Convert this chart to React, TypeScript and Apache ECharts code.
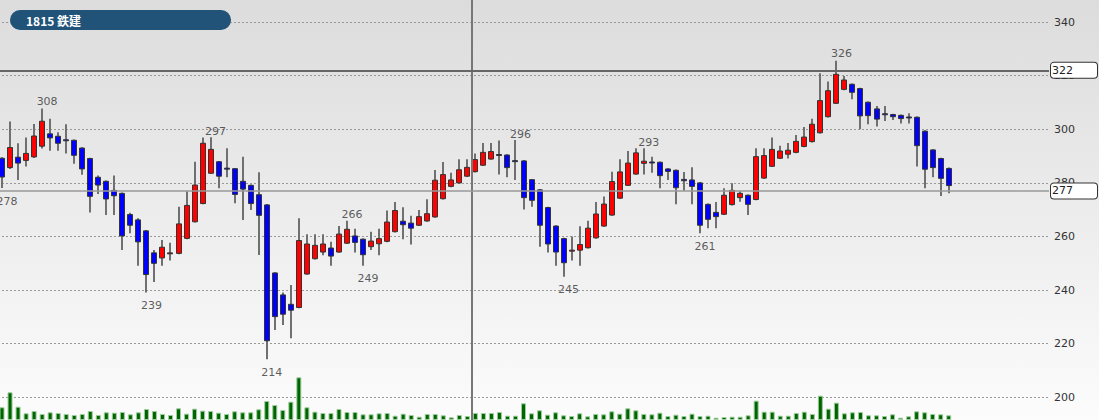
import React, { useEffect, useRef } from "react";
import * as echarts from "echarts";

const title = "1815 鉄建";

// candle values split into arrays: open, close, low, high
const opens = [
  289.2, 285.7, 289.6, 288.4, 289.7, 293.7, 298.3, 297.4, 296.1, 295.9,
  293.0, 289.1, 282.1, 280.6, 277.2, 276.1, 268.2, 266.2, 262.1, 253.9,
  252.0, 253.8, 253.7, 259.3, 265.5, 272.3, 283.6, 287.9, 285.5, 285.3,
  280.6, 279.1, 275.6, 271.8, 246.4, 238.2, 234.7, 233.5, 246.0, 251.7,
  254.2, 255.7, 254.2, 257.5, 260.2, 259.0, 256.2, 257.3, 258.2, 261.8,
  265.7, 265.0, 264.2, 265.8, 267.3, 274.1, 278.7, 280.0, 282.5, 284.2,
  286.6, 288.9, 290.6, 290.4, 288.3, 288.2, 281.2, 277.4, 270.8, 263.9,
  259.2, 254.8, 254.9, 255.8, 259.5, 263.9, 268.0, 274.3, 279.1, 283.3,
  287.3, 287.8, 287.7, 285.2, 284.7, 281.3, 281.1, 280.0, 272.0, 269.0,
  268.3, 271.9, 274.5, 275.4, 273.8, 281.8, 286.2, 289.2, 290.7, 291.4,
  293.6, 295.4, 298.7, 304.7, 309.7, 314.9, 316.8, 315.2, 310.1, 307.6,
  305.8, 305.5, 305.2, 304.6, 304.5, 299.3, 292.3, 289.1, 285.4,
];
const closes = [
  282.2, 293.2, 287.4, 291.0, 297.5, 303.0, 296.8, 294.8, 295.9, 290.3,
  285.2, 275.0, 279.2, 274.0, 275.2, 260.2, 264.2, 258.0, 245.8, 250.0,
  256.0, 253.9, 264.7, 271.6, 279.2, 294.8, 292.5, 282.5, 285.4, 275.7,
  277.7, 272.3, 267.9, 221.1, 230.1, 231.0, 232.5, 258.5, 257.2, 256.7,
  257.2, 252.7, 260.9, 262.7, 257.8, 253.2, 258.3, 259.2, 265.4, 269.7,
  264.4, 263.1, 267.4, 268.5, 281.0, 283.1, 281.1, 284.9, 285.8, 288.7,
  291.4, 291.7, 290.5, 285.7, 288.2, 274.5, 273.5, 264.2, 257.2, 254.2,
  250.2, 254.9, 257.0, 263.1, 268.4, 272.1, 280.5, 284.1, 287.4, 291.2,
  288.1, 287.7, 282.7, 284.3, 278.2, 280.8, 278.7, 264.2, 266.4, 267.4,
  275.4, 277.2, 276.1, 272.0, 289.8, 290.2, 292.5, 291.9, 292.2, 295.5,
  297.1, 301.9, 310.7, 314.4, 320.5, 318.4, 313.8, 305.0, 305.1, 303.8,
  305.7, 304.7, 304.0, 304.5, 293.9, 285.1, 285.7, 281.7, 279.0,
];
const lows = [
  278.1, 285.2, 281.1, 286.1, 289.3, 292.8, 292.0, 292.0, 291.0, 287.1,
  283.0, 269.0, 275.9, 268.0, 268.0, 255.0, 261.2, 249.1, 239.1, 243.0,
  249.1, 251.0, 253.4, 259.0, 265.2, 272.0, 283.3, 278.0, 282.1, 272.4,
  266.2, 269.9, 253.1, 214.2, 225.1, 227.0, 222.0, 233.2, 245.7, 251.4,
  253.0, 249.1, 253.9, 257.2, 254.0, 249.1, 255.0, 253.0, 257.9, 261.5,
  259.0, 257.0, 263.9, 265.5, 267.0, 273.8, 278.4, 279.7, 282.2, 283.9,
  286.3, 288.6, 283.1, 282.1, 281.1, 270.1, 271.1, 256.2, 254.0, 249.1,
  245.0, 251.0, 249.1, 255.5, 259.2, 263.6, 267.7, 274.0, 278.8, 283.0,
  283.1, 283.8, 278.0, 281.1, 272.0, 277.1, 272.0, 261.2, 263.1, 263.1,
  268.0, 271.6, 273.0, 268.0, 273.5, 281.5, 285.9, 288.9, 289.1, 291.1,
  293.3, 295.1, 298.4, 304.4, 309.4, 314.6, 311.2, 300.0, 301.9, 301.0,
  303.1, 303.5, 302.2, 302.2, 286.1, 278.0, 282.1, 275.1, 276.1,
];
const highs = [
  289.6, 302.9, 294.8, 296.9, 302.0, 307.8, 303.9, 298.9, 301.9, 296.2,
  293.3, 289.4, 282.8, 280.9, 282.8, 276.4, 268.9, 266.8, 262.4, 255.0,
  258.7, 257.7, 271.1, 276.9, 287.9, 296.9, 297.0, 288.2, 292.9, 285.6,
  289.8, 279.4, 284.0, 272.1, 246.7, 239.1, 241.9, 266.8, 260.8, 260.8,
  260.8, 258.0, 263.9, 265.9, 262.9, 259.3, 261.8, 262.9, 269.7, 272.9,
  270.9, 267.7, 269.9, 273.9, 284.8, 287.8, 283.8, 288.8, 288.8, 291.0,
  294.9, 294.9, 295.8, 290.7, 296.0, 288.5, 281.5, 277.7, 271.1, 264.2,
  259.5, 260.0, 263.8, 265.9, 272.9, 274.9, 284.2, 288.8, 291.9, 292.9,
  292.9, 289.8, 288.0, 285.5, 285.0, 284.1, 285.8, 280.3, 272.3, 272.9,
  278.0, 279.9, 276.9, 275.7, 292.9, 292.9, 296.9, 293.9, 294.9, 297.9,
  300.9, 303.9, 320.9, 317.8, 325.6, 319.9, 317.1, 315.5, 310.4, 308.7,
  308.7, 305.8, 305.5, 306.0, 304.8, 299.6, 292.6, 289.4, 285.7,
];
const volumes = [
  127, 277, 133, 67, 90, 60, 77, 70, 60, 50,
  60, 90, 50, 77, 73, 80, 57, 77, 110, 90,
  60, 50, 117, 63, 113, 93, 90, 73, 60, 87,
  77, 77, 107, 190, 150, 100, 183, 427, 127, 83,
  70, 70, 110, 80, 80, 57, 57, 67, 70, 43,
  63, 50, 33, 60, 60, 47, 27, 50, 40, 70,
  70, 70, 80, 43, 43, 167, 67, 97, 53, 77,
  47, 40, 67, 37, 60, 57, 87, 63, 117, 97,
  60, 57, 73, 40, 53, 40, 63, 40, 43, 23,
  30, 33, 33, 47, 193, 83, 83, 43, 43, 70,
  83, 60, 243, 113, 173, 67, 77, 80, 47, 47,
  40, 57, 23, 37, 87, 77, 60, 57, 47,
];
// [candle index, labelled price]
const highMarks = [[5, 308], [26, 297], [43, 266], [64, 296], [80, 293], [104, 326]];
const lowMarks = [[0, 278], [18, 239], [33, 214], [45, 249], [70, 245], [87, 261]];
const refLines = [322, 277];
const yTicks = { min: 180, max: 360, interval: 20 };
const SLOTS = 131; // day slots across the plot width (119 drawn)
const dividerSlot = 59;

const categories = Array.from({ length: SLOTS }, (_, i) => String(i + 1));
const FONT = "DejaVu Sans";

export default function App() {
  const ref = useRef<HTMLDivElement>(null);
  useEffect(() => {
    if (!ref.current) return;
    const chart = echarts.init(ref.current, null, { renderer: "svg" });
    const candleData = opens.map((o, i) => [i, o, closes[i], lows[i], highs[i]]);
    const labelStyle = {
      show: true,
      color: "#333",
      fontSize: 11,
      fontFamily: FONT,
      offset: [5, 0],
      formatter: (p: any) => String(p.value[1]),
    };
    const refLabel = (v: number) => ({
      show: true,
      position: "end",
      distance: 2,
      formatter: String(v),
      color: "#222",
      fontSize: 11,
      fontFamily: FONT,
      lineHeight: 12,
      backgroundColor: "#fff",
      borderColor: "#333",
      borderWidth: 1,
      borderRadius: 3,
      padding: [2, 24, 1, 1],
    });
    chart.setOption({
      animation: false,
      backgroundColor: "transparent",
      title: {
        text: title,
        left: 10,
        top: 10,
        padding: [4, 150, 4, 16],
        backgroundColor: "#215278",
        borderRadius: 10,
        textStyle: {
          color: "#fff",
          fontSize: 12,
          fontWeight: "bold",
          fontFamily: '"Noto Sans CJK JP", sans-serif',
          lineHeight: 12,
        },
        z: 10,
      },
      grid: [
        { left: -2, right: 50, top: -31.5, bottom: -30.9, outerBoundsMode: "none" },
        { left: -2, right: 50, top: 320, bottom: 0, outerBoundsMode: "none" },
      ],
      xAxis: [
        {
          type: "category",
          data: categories,
          gridIndex: 0,
          boundaryGap: true,
          axisLine: { show: false },
          axisTick: { show: false },
          axisLabel: { show: false },
          splitLine: { show: false },
        },
        {
          type: "category",
          data: categories,
          gridIndex: 1,
          boundaryGap: true,
          axisLine: { show: false },
          axisTick: { show: false },
          axisLabel: { show: false },
          splitLine: { show: false },
        },
        {
          type: "value",
          gridIndex: 0,
          min: 0,
          max: SLOTS,
          show: false,
          splitLine: { show: false },
        },
      ],
      yAxis: [
        {
          type: "value",
          gridIndex: 0,
          position: "right",
          min: yTicks.min,
          max: yTicks.max,
          interval: yTicks.interval,
          axisLine: { show: true, lineStyle: { color: "#808080", width: 2 } },
          axisTick: { show: false },
          axisLabel: { color: "#333", fontSize: 11, fontFamily: FONT, margin: 5, padding: [3, 0, 0, 0] },
          splitLine: { show: true, lineStyle: { color: "#999", width: 1, type: [2, 2] } },
        },
        {
          type: "value",
          gridIndex: 1,
          min: 0,
          max: 1000,
          show: false,
          splitLine: { show: false },
        },
      ],
      series: [
        {
          type: "bar",
          xAxisIndex: 1,
          yAxisIndex: 1,
          data: volumes,
          barWidth: 5,
          itemStyle: { color: "#006400", borderColor: "#9ccc9c", borderWidth: 1 },
          silent: true,
        },
        {
          type: "line",
          xAxisIndex: 2,
          yAxisIndex: 0,
          data: [],
          silent: true,
          z: 2,
          markLine: {
            symbol: "none",
            silent: true,
            data: [
              { xAxis: dividerSlot, lineStyle: { color: "#777", width: 2, type: "solid" }, label: { show: false } },
              { yAxis: refLines[0], lineStyle: { color: "#666", width: 2, type: "solid" }, label: refLabel(refLines[0]) },
              { yAxis: refLines[1], lineStyle: { color: "#999", width: 1.5, type: "solid" }, label: refLabel(refLines[1]) },
            ],
          },
        },
        {
          type: "custom",
          xAxisIndex: 0,
          yAxisIndex: 0,
          data: candleData,
          encode: { x: 0, y: [1, 2, 3, 4] },
          silent: true,
          z: 3,
          renderItem: (params: any, api: any) => {
            const i = api.value(0);
            const o = api.value(1);
            const c = api.value(2);
            const l = api.value(3);
            const h = api.value(4);
            const top = api.coord([i, Math.max(o, c)]);
            const bot = api.coord([i, Math.min(o, c)]);
            const hi = api.coord([i, h]);
            const lo = api.coord([i, l]);
            const w = 5;
            const x = Math.round(top[0]);
            return {
              type: "group",
              children: [
                {
                  type: "line",
                  shape: { x1: x, y1: hi[1], x2: x, y2: lo[1] },
                  style: { stroke: "#707070", lineWidth: 2 },
                },
                {
                  type: "rect",
                  shape: { x: x - w / 2, y: top[1], width: w, height: Math.max(bot[1] - top[1], 1) },
                  style: { fill: c >= o ? "#ff0000" : "#0000ff", stroke: "#333", lineWidth: 1 },
                },
              ],
            };
          },
        },
        {
          type: "scatter",
          xAxisIndex: 0,
          yAxisIndex: 0,
          data: highMarks,
          symbol: "circle",
          symbolSize: 1,
          itemStyle: { color: "transparent" },
          label: { ...labelStyle, position: "top", distance: 0 },
          silent: true,
          z: 5,
        },
        {
          type: "scatter",
          xAxisIndex: 0,
          yAxisIndex: 0,
          data: lowMarks,
          symbol: "circle",
          symbolSize: 1,
          itemStyle: { color: "transparent" },
          label: { ...labelStyle, position: "bottom", distance: 7 },
          silent: true,
          z: 5,
        },
      ],
    });
    return () => chart.dispose();
  }, []);
  return (
    <div
      style={{
        position: "fixed",
        left: 0,
        top: 0,
        width: 1099,
        height: 420,
        background: "linear-gradient(to bottom, #dcdcdc 0%, #fcfcfc 100%)",
      }}
    >
      <div ref={ref} style={{ width: 1099, height: 420 }} />
    </div>
  );
}
